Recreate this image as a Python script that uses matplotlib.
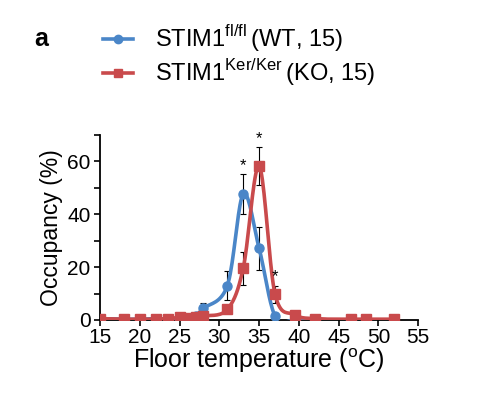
import numpy as np
import matplotlib.pyplot as plt
from matplotlib.lines import Line2D

plt.rcParams['font.family'] = ['Liberation Sans', 'DejaVu Sans']
plt.rcParams['mathtext.fontset'] = 'custom'
plt.rcParams['mathtext.rm'] = 'Liberation Sans'

# dados
temp = [15, 18, 20, 22, 23.5, 25, 26, 27, 28, 31, 33, 35, 37, 39.5, 42, 46.5, 48.5, 52]
wt_mean = [0.5, 0.3, 0.3, 0.5, 0.3, 0.0, 0.5, 1.5, 4.4, 13.0, 47.6, 27.1, 1.5, 0.0, 0.0, 0.0, 0.0, 0.0]
wt_err = [0.3, 0.2, 0.2, 0.3, 0.2, 0.2, 0.3, 0.8, 2.2, 5.5, 7.5, 8.2, 1.0, 0.2, 0.1, 0.1, 0.1, 0.1]
ko_mean = [0.5, 0.3, 0.3, 0.3, 0.5, 1.0, 0.8, 1.0, 1.5, 4.0, 19.6, 58.1, 9.8, 2.0, 0.5, 0.3, 0.3, 0.3]
ko_err = [0.3, 0.2, 0.2, 0.2, 0.3, 0.4, 0.4, 0.5, 0.8, 1.2, 6.2, 7.2, 3.2, 0.6, 0.2, 0.1, 0.1, 0.1]
sig_temp = [33, 35, 37]
sig_group = ['wt', 'ko', 'ko']

wt_label = r'STIM1$^{\mathregular{fl/fl}}\,$(WT, 15)'
ko_label = r'STIM1$^{\mathregular{Ker/Ker}}\,$(KO, 15)'

cor_wt = '#4a86c8'
cor_ko = '#c94a4c'


def suaviza(x, y, n=20):
    # curva suave tipo Excel (Catmull-Rom) so para desenhar a linha
    x = np.asarray(x, float)
    y = np.asarray(y, float)
    px = np.concatenate([[2 * x[0] - x[1]], x, [2 * x[-1] - x[-2]]])
    py = np.concatenate([[2 * y[0] - y[1]], y, [2 * y[-1] - y[-2]]])
    xs, ys = [], []
    t = np.linspace(0, 1, n)
    for i in range(1, len(px) - 2):
        for p, out in ((px, xs), (py, ys)):
            p0, p1, p2, p3 = p[i - 1], p[i], p[i + 1], p[i + 2]
            c = 0.5 * ((2 * p1) + (-p0 + p2) * t + (2 * p0 - 5 * p1 + 4 * p2 - p3) * t**2
                       + (-p0 + 3 * p1 - 3 * p2 + p3) * t**3)
            out.extend(c)
    return np.array(xs), np.array(ys)


fig = plt.figure(figsize=(4.79, 3.97), dpi=100)
ax = fig.add_axes([0.209, 0.194, 0.664, 0.466])

for m, e, cor, mk, ms in ((wt_mean, wt_err, cor_wt, 'o', 6.5), (ko_mean, ko_err, cor_ko, 's', 6.5)):
    sx, sy = suaviza(temp, m)
    ax.plot(sx, sy, color=cor, lw=2.6, zorder=3)
    ax.errorbar(temp, m, yerr=e, fmt='none', ecolor='black', elinewidth=0.8,
                capsize=2, capthick=0.8, zorder=2)
    ax.plot(temp, m, linestyle='none', marker=mk, ms=ms, color=cor, zorder=4)

for t, g in zip(sig_temp, sig_group):
    i = temp.index(t)
    if g == 'wt':
        yy = wt_mean[i] + wt_err[i]
    else:
        yy = ko_mean[i] + ko_err[i]
    ax.text(t, yy + 0.5, '*', ha='center', va='bottom', fontsize=12)

ax.set_xlim(15, 55)
ax.set_ylim(0, 70)
ax.set_xticks(range(15, 56, 5))
ax.set_yticks([0, 20, 40, 60])
ax.set_yticks(range(0, 71, 10), minor=True)
ax.tick_params(axis='both', which='both', direction='out', width=1.2, labelsize=15, pad=3)
ax.tick_params(axis='y', which='both', length=4)
ax.tick_params(axis='x', length=4, pad=2)
for s in ('top', 'right'):
    ax.spines[s].set_visible(False)
for s in ('left', 'bottom'):
    ax.spines[s].set_linewidth(1.3)
ax.set_xlabel('Floor temperature ($^{\\mathregular{o}}$C)', fontsize=18, labelpad=-1)
ax.set_ylabel('Occupancy (%)', fontsize=16.5, labelpad=3)

handles = [Line2D([], [], color=cor_wt, lw=2.6, marker='o', ms=6),
           Line2D([], [], color=cor_ko, lw=2.6, marker='s', ms=6)]
fig.legend(handles, [wt_label, ko_label], loc='upper left', bbox_to_anchor=(0.17, 0.995),
           frameon=False, fontsize=17, handlelength=1.3, handletextpad=0.9, labelspacing=0.12)

fig.text(0.072, 0.885, 'a', fontsize=18, fontweight='bold')

fig.savefig('out.png', dpi=100)
